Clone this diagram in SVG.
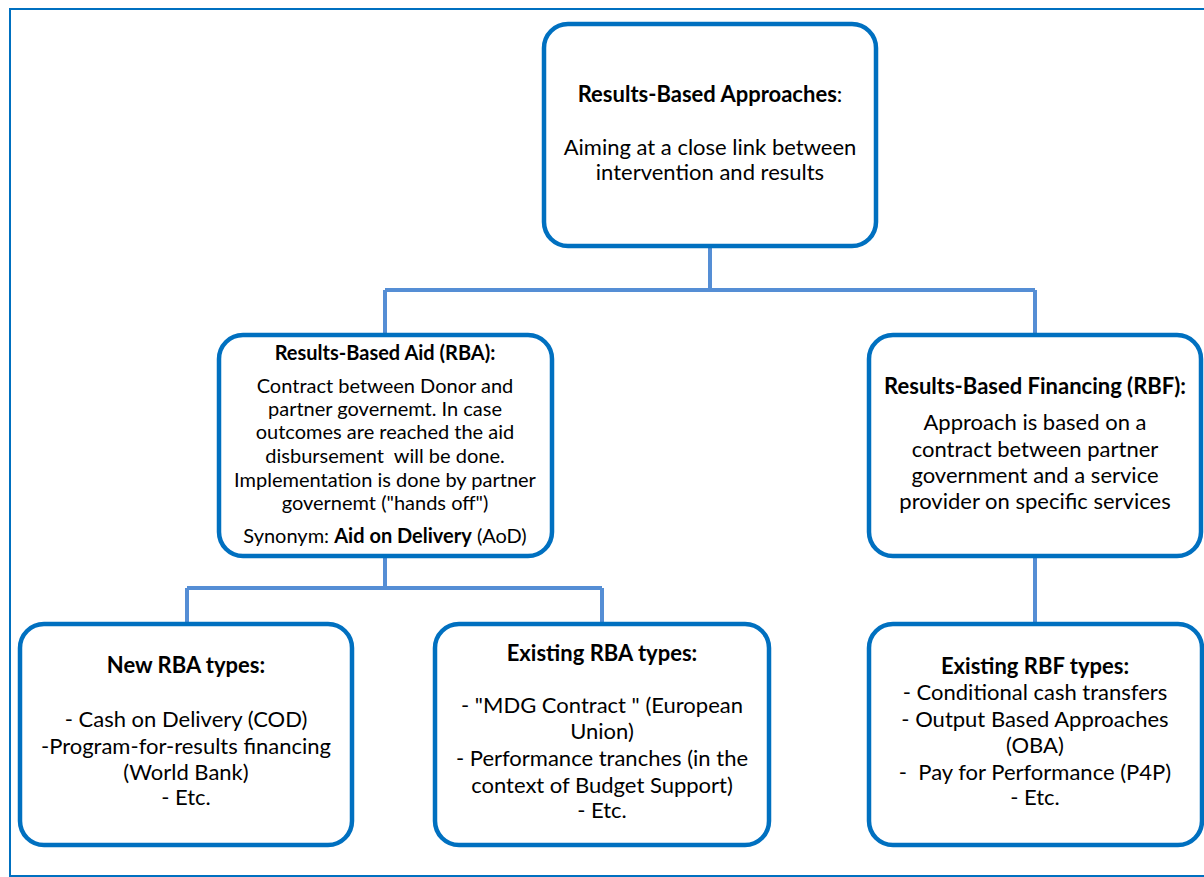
<svg xmlns="http://www.w3.org/2000/svg" width="1204" height="877" viewBox="0 0 1204 877">
<style>
.frame{fill:none;stroke:#0070C0;stroke-width:2}
.box{fill:#ffffff;stroke:#0070C0;stroke-width:4.5}
.conn{fill:none;stroke:#558ED5;stroke-width:4}
text{font-family:Lato,"Liberation Sans",sans-serif;fill:#000;text-anchor:middle;white-space:pre}
.t{font-size:22px}
.s{font-size:20px}
.b{font-weight:bold}
</style>
<rect x="0" y="0" width="1204" height="877" fill="#ffffff"/>
<rect class="frame" x="10" y="9" width="1200" height="867"/>
<g id="connectors">
<path class="conn" d="M710,246 V290 M385,290 H1035 M385,290 V335 M1035,290 V335"/>
<path class="conn" d="M385,556 V588 M187,588 H602 M187,588 V624 M602,588 V624"/>
<path class="conn" d="M1035,556 V624"/>
</g>
<g id="node-rba-approaches">
<rect class="box" x="544" y="24" width="332" height="222" rx="24"/>
<text class="t" x="710" y="102"><tspan class="b">Results-Based Approaches</tspan>:</text>
<text class="t" x="710" y="155">Aiming at a close link between</text>
<text class="t" x="710" y="180">intervention and results</text>
</g>
<g id="node-rba">
<rect class="box" x="219" y="335" width="333" height="221" rx="24"/>
<text class="s b" x="385" y="360">Results-Based Aid (RBA):</text>
<text class="s" x="385" y="393">Contract between Donor and</text>
<text class="s" x="385" y="416">partner governemt. In case</text>
<text class="s" x="385" y="439">outcomes are reached the aid</text>
<text class="s" x="385" y="463" xml:space="preserve">disbursement  will be done.</text>
<text class="s" x="385" y="487">Implementation is done by partner</text>
<text class="s" x="385" y="510">governemt ("hands off")</text>
<text class="s" x="385" y="543">Synonym: <tspan class="b">Aid on Delivery</tspan> (AoD)</text>
</g>
<g id="node-rbf">
<rect class="box" x="869" y="335" width="332" height="221" rx="24"/>
<text class="t b" x="1035" y="394">Results-Based Financing (RBF):</text>
<text class="t" x="1035" y="430">Approach is based on a</text>
<text class="t" x="1035" y="457">contract between partner</text>
<text class="t" x="1035" y="483">government and a service</text>
<text class="t" x="1035" y="509">provider on specific services</text>
</g>
<g id="node-new-rba">
<rect class="box" x="20" y="624" width="332" height="221" rx="24"/>
<text class="t b" x="186" y="673">New RBA types:</text>
<text class="t" x="186" y="727">- Cash on Delivery (COD)</text>
<text class="t" x="186" y="754">-Program-for-results financing</text>
<text class="t" x="186" y="780">(World Bank)</text>
<text class="t" x="186" y="805">- Etc.</text>
</g>
<g id="node-existing-rba">
<rect class="box" x="435" y="624" width="334" height="221" rx="24"/>
<text class="t b" x="602" y="661">Existing RBA types:</text>
<text class="t" x="602" y="713" xml:space="preserve">- "MDG Contract " (European</text>
<text class="t" x="602" y="739">Union)</text>
<text class="t" x="602" y="766">- Performance tranches (in the</text>
<text class="t" x="602" y="793">context of Budget Support)</text>
<text class="t" x="602" y="818">- Etc.</text>
</g>
<g id="node-existing-rbf">
<rect class="box" x="869" y="624" width="333" height="221" rx="24"/>
<text class="t b" x="1035" y="674">Existing RBF types:</text>
<text class="t" x="1035" y="700">- Conditional cash transfers</text>
<text class="t" x="1035" y="727">- Output Based Approaches</text>
<text class="t" x="1035" y="753">(OBA)</text>
<text class="t" x="1035" y="780" xml:space="preserve">-  Pay for Performance (P4P)</text>
<text class="t" x="1035" y="805">- Etc.</text>
</g>
</svg>
